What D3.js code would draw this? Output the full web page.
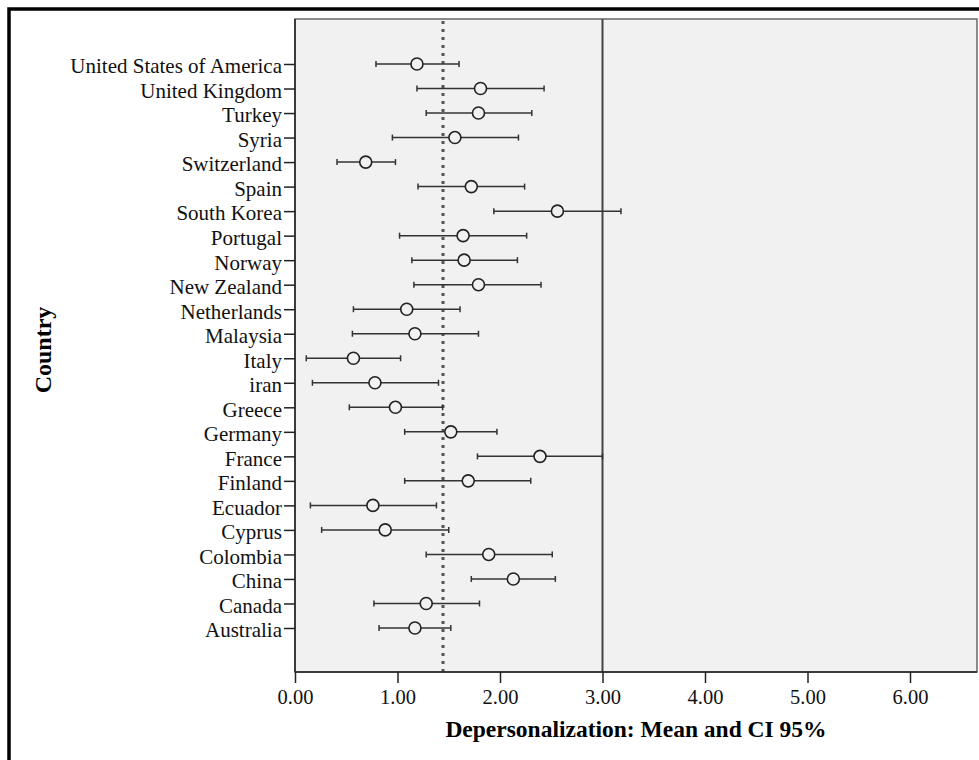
<!DOCTYPE html>
<html>
<head>
<meta charset="utf-8">
<script src="https://cdn.jsdelivr.net/npm/d3@7"></script>
<style>
  body { margin: 0; background: #fff; }
  svg text { font-family: "Liberation Serif", "Times New Roman", serif; }
</style>
</head>
<body>
<div id="chart"></div>
<script>
// countries, top to bottom
const countries = [
  "United States of America", "United Kingdom", "Turkey", "Syria", "Switzerland",
  "Spain", "South Korea", "Portugal", "Norway", "New Zealand", "Netherlands",
  "Malaysia", "Italy", "iran", "Greece", "Germany", "France", "Finland",
  "Ecuador", "Cyprus", "Colombia", "China", "Canada", "Australia"
];
const means = [
  1.19, 1.81, 1.79, 1.56, 0.69, 1.72, 2.56, 1.64, 1.65, 1.79, 1.09, 1.17,
  0.57, 0.78, 0.98, 1.52, 2.39, 1.69, 0.76, 0.88, 1.89, 2.13, 1.28, 1.17
];
const lower = [
  0.79, 1.19, 1.28, 0.95, 0.41, 1.20, 1.94, 1.02, 1.14, 1.16, 0.57, 0.56,
  0.11, 0.17, 0.53, 1.07, 1.78, 1.07, 0.15, 0.26, 1.28, 1.72, 0.77, 0.82
];
const upper = [
  1.60, 2.43, 2.31, 2.18, 0.98, 2.24, 3.18, 2.26, 2.17, 2.40, 1.61, 1.79,
  1.03, 1.40, 1.44, 1.97, 3.00, 2.30, 1.38, 1.50, 2.51, 2.54, 1.80, 1.52
];
const overallMean = 1.444;
const refValue = 3.0;
const xTicks = [0, 1, 2, 3, 4, 5, 6];

const width = 979, height = 760;
const plot = { left: 295, right: 977, top: 19, bottom: 672 };

const svg = d3.select('#chart').append('svg')
  .attr('width', width)
  .attr('height', height);

// outer frame
svg.append('rect')
  .attr('x', 9).attr('y', 9)
  .attr('width', width + 20).attr('height', height + 20)
  .attr('fill', 'none')
  .attr('stroke', '#000')
  .attr('stroke-width', 3.5);

const x = d3.scaleLinear()
  .domain([0, (plot.right - plot.left) / 102.5])
  .range([plot.left, plot.right]);

const y = d3.scalePoint()
  .domain(countries)
  .range([64, 628]);

// plot background
svg.append('rect')
  .attr('x', plot.left).attr('y', plot.top)
  .attr('width', plot.right - plot.left)
  .attr('height', plot.bottom - plot.top)
  .attr('fill', '#f1f1f1')
  .attr('stroke', '#666')
  .attr('stroke-width', 1.5);

// overall mean (dotted)
svg.append('line')
  .attr('x1', x(overallMean)).attr('x2', x(overallMean))
  .attr('y1', plot.top + 2).attr('y2', plot.bottom)
  .attr('stroke', '#555')
  .attr('stroke-width', 3)
  .attr('stroke-dasharray', '3,5');

// reference line at 3
svg.append('line')
  .attr('x1', x(refValue)).attr('x2', x(refValue))
  .attr('y1', plot.top).attr('y2', plot.bottom)
  .attr('stroke', '#444')
  .attr('stroke-width', 2);

// error bars
const rows = countries.map((c, i) => ({ c, m: means[i], lo: lower[i], hi: upper[i] }));
const g = svg.append('g');

g.selectAll('line.ci')
  .data(rows).join('line')
  .attr('class', 'ci')
  .attr('x1', d => x(d.lo)).attr('x2', d => x(d.hi))
  .attr('y1', d => y(d.c)).attr('y2', d => y(d.c))
  .attr('stroke', '#333')
  .attr('stroke-width', 1.5);

['lo', 'hi'].forEach(k => {
  g.selectAll('line.cap-' + k)
    .data(rows).join('line')
    .attr('class', 'cap-' + k)
    .attr('x1', d => x(d[k])).attr('x2', d => x(d[k]))
    .attr('y1', d => y(d.c) - 3).attr('y2', d => y(d.c) + 3)
    .attr('stroke', '#333')
    .attr('stroke-width', 1.5);
});

g.selectAll('circle')
  .data(rows).join('circle')
  .attr('cx', d => x(d.m))
  .attr('cy', d => y(d.c))
  .attr('r', 6)
  .attr('fill', '#f1f1f1')
  .attr('stroke', '#222')
  .attr('stroke-width', 1.6);

// axes
const yAxis = svg.append('g')
  .attr('transform', `translate(${plot.left},0)`)
  .call(d3.axisLeft(y).tickSize(11).tickPadding(2));
yAxis.select('.domain').remove();
yAxis.selectAll('.tick line').attr('stroke', '#222').attr('stroke-width', 1.5);
yAxis.selectAll('.tick text')
  .attr('font-size', '21px')
  .attr('fill', '#111')
  .attr('dy', '0.42em');

svg.append('line')
  .attr('x1', plot.left).attr('x2', plot.left)
  .attr('y1', plot.top).attr('y2', plot.bottom)
  .attr('stroke', '#222').attr('stroke-width', 1.5);

const xAxis = svg.append('g')
  .attr('transform', `translate(0,${plot.bottom})`)
  .call(d3.axisBottom(x).tickValues(xTicks).tickFormat(d3.format('.2f')).tickSize(11).tickPadding(6));
xAxis.select('.domain').remove();
xAxis.selectAll('.tick line').attr('stroke', '#222').attr('stroke-width', 1.5);
xAxis.selectAll('.tick text')
  .attr('font-size', '20.5px')
  .attr('fill', '#111');

svg.append('line')
  .attr('x1', plot.left).attr('x2', plot.right)
  .attr('y1', plot.bottom).attr('y2', plot.bottom)
  .attr('stroke', '#222').attr('stroke-width', 1.5);

// axis titles
svg.append('text')
  .attr('x', (plot.left + plot.right) / 2)
  .attr('y', 737)
  .attr('text-anchor', 'middle')
  .attr('font-size', '23.5px')
  .attr('font-weight', 'bold')
  .attr('fill', '#000')
  .text('Depersonalization: Mean and CI 95%');

svg.append('text')
  .attr('transform', 'translate(51,350) rotate(-90)')
  .attr('text-anchor', 'middle')
  .attr('font-size', '24px')
  .attr('font-weight', 'bold')
  .attr('fill', '#000')
  .text('Country');
</script>
</body>
</html>
